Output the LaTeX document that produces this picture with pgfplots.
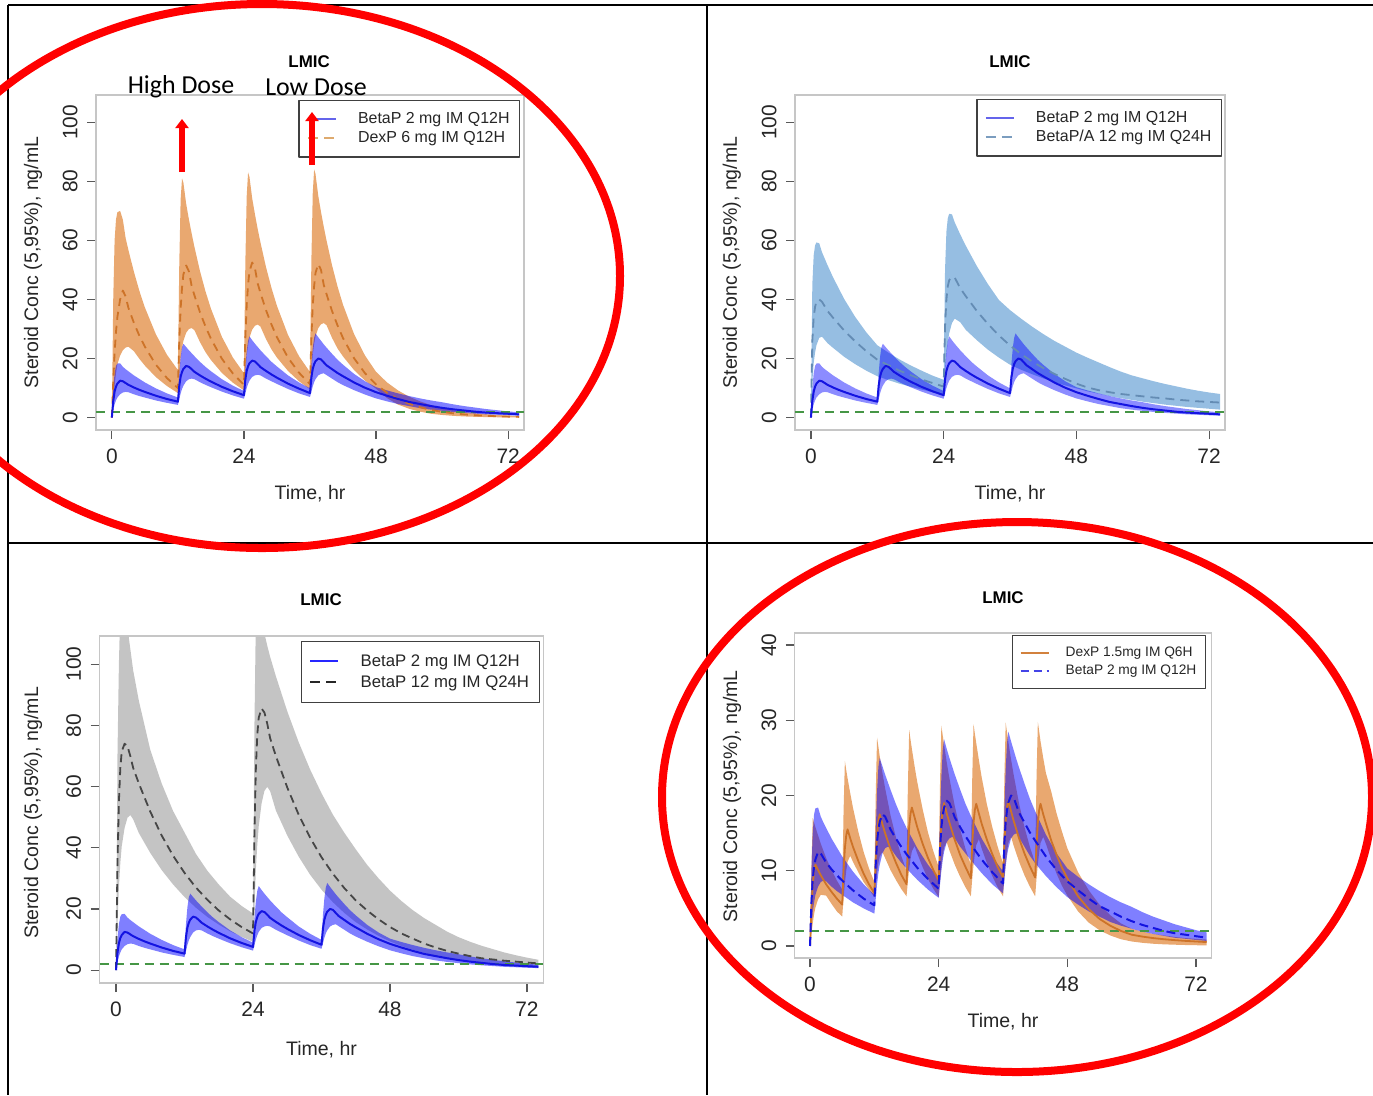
\documentclass[border=0pt]{standalone}
\usepackage{fontspec}
\setmainfont{Liberation Sans}
\newfontfamily\calibri{Carlito}
\usepackage{pgfplots}
\pgfplotsset{compat=1.18}
\usepackage{pgfplotstable}
\usepgfplotslibrary{fillbetween}
\usetikzlibrary{arrows.meta}

\definecolor{bline}{RGB}{20,20,225}
\definecolor{oband}{RGB}{233,168,112}
\definecolor{oline}{RGB}{205,115,40}
\definecolor{saband}{RGB}{150,190,226}
\definecolor{saline}{RGB}{100,140,180}
\definecolor{gband}{RGB}{196,196,196}
\definecolor{gline}{RGB}{70,70,70}
\definecolor{mecgreen}{RGB}{70,150,70}
\definecolor{legblue}{RGB}{100,100,235}
\definecolor{legorange}{RGB}{222,170,110}

% BetaP 2 mg IM Q12H
\pgfplotstableread{
t med lo hi
0 0 0 0
0.25 5.6 2.5 10.0
0.5 8.8 4.5 15.0
0.75 10.5 5.8 17.5
1 11.5 6.8 18.3
1.5 12.5 7.9 18.4
2 12.3 8.5 17.2
2.5 11.7 8.7 16.4
3 11.1 8.6 15.7
4 10.2 7.9 14.3
5 9.4 7.3 13.1
6 8.7 6.8 11.9
8 7.4 5.8 9.9
10 6.3 5.0 8.2
12 5.4 4.3 6.8
12.25 10.8 6.2 15.0
12.5 13.9 8.2 20.5
12.75 15.5 9.7 23.8
13 16.5 10.8 25.0
13.5 17.5 12.3 23.9
14 17.2 13.0 22.8
14.5 16.4 13.2 21.8
15 15.5 13.0 20.8
16 14.3 12.0 18.9
17 13.2 11.1 17.2
18 12.2 10.3 15.7
20 10.4 8.8 13.0
22 8.9 7.5 10.8
24 7.6 6.4 9.0
24.25 12.9 8.2 17.0
24.5 15.8 10.0 22.5
24.75 17.4 11.4 26.0
25 18.4 12.5 27.5
25.5 19.3 13.8 26.2
26 19.0 14.3 25.0
26.5 18.1 14.5 23.9
27 17.1 14.3 22.8
28 15.8 13.2 20.8
29 14.6 12.3 18.9
30 13.5 11.4 17.3
32 11.5 9.7 14.3
34 9.8 8.2 11.9
36 8.3 7.0 9.9
36.25 13.6 8.8 18.0
36.5 16.5 10.6 23.5
36.75 18.1 12.0 27.0
37 19.1 13.0 28.5
37.5 20.0 14.3 27.2
38 19.7 14.8 26.0
38.5 18.7 15.0 24.8
39 17.7 14.4 23.7
40 16.4 13.2 21.6
41 15.1 12.0 19.6
42 14.0 11.0 17.9
44 11.9 9.3 14.8
46 10.1 7.8 12.3
48 8.6 6.5 10.3
50 7.4 5.5 9.2
52 6.3 4.6 8.2
54 5.3 3.9 7.3
56 4.6 3.2 6.5
58 3.9 2.7 5.8
60 3.3 2.3 5.2
62 2.8 1.9 4.5
64 2.4 1.6 3.9
66 2.0 1.35 3.4
68 1.7 1.1 2.9
70 1.5 0.96 2.5
72 1.3 0.8 2.1
74 1.1 0.67 1.8
}\betap

% DexP 6 mg IM Q12H
\pgfplotstableread{
t med lo hi
0 0 0 0
0.25 12 6 40
0.5 22 11 60
0.75 29 15 67
1 34 18 69.5
1.5 40 21 70
2 43 22.8 67
2.5 41 23.7 60.8
3 37.2 24.0 56.8
4 32.1 22.5 49.4
5 27.7 19.9 42.9
6 24.0 17.6 37.3
8 17.9 13.7 28.2
10 13.4 10.7 21.3
12 10.0 8.3 16.1
12.25 26 14 52
12.5 37 20 74
12.75 44 23.5 81
13 48.5 26 79.5
13.5 51.5 28.7 72.4
14 49.5 30.0 67.1
14.5 44.5 30.3 62.3
15 41.4 29.6 57.8
16 35.7 25.6 49.7
17 30.9 22.2 42.8
18 26.7 19.5 36.9
20 19.9 15.1 27.3
22 14.9 11.8 20.3
24 11.1 9.2 15.0
24.25 27 15 52
24.5 38 21 75
24.75 45 24.5 83
25 49.5 27 81.5
25.5 52.5 29.8 74.2
26 50.5 31.1 68.8
26.5 45.4 31.5 63.8
27 42.2 30.8 59.3
28 36.4 26.6 51.0
29 31.5 23.1 43.9
30 27.2 20.3 37.8
32 20.3 15.8 28.0
34 15.2 12.3 20.8
36 11.3 9.6 15.4
36.25 27 15.3 53
36.5 38 21.3 76
36.75 44.5 25 84
37 49 27.5 82.5
37.5 52 30.3 75.1
38 50 31.6 69.6
38.5 44.9 32.0 64.6
39 41.8 31.3 60.0
40 36.1 27.0 51.6
41 31.2 23.4 44.4
42 26.9 20.7 38.2
44 20.1 16.1 28.3
46 15.0 12.5 21.0
48 11.2 9.8 15.5
50 8.4 6.6 11.9
52 6.3 4.4 9.2
54 4.7 3.0 7.1
56 3.5 2.0 5.5
58 2.6 1.3 4.2
60 1.95 0.9 3.25
62 1.45 0.6 2.5
64 1.09 0.4 1.9
66 0.81 0.27 1.5
68 0.61 0.18 1.15
70 0.45 0.12 0.89
72 0.34 0.08 0.68
74 0.25 0.05 0.53
}\dexsix

% BetaP/A 12 mg IM Q24H
\pgfplotstableread{
t med lo hi
0 0 0 0
0.25 26 12 45
0.5 34 18.5 55
0.75 37.5 22 58.3
1 39.3 24.5 59.3
1.5 40.0 27.0 59.0
2 39.2 27.4 56.0
3 36.1 25.2 51.6
4 33.8 23.6 47.5
6 29.5 20.6 40.2
8 25.8 18.1 34.1
10 22.5 15.9 28.9
12 19.6 14.0 24.5
14 17.7 12.7 22.0
16 15.9 11.5 19.7
18 14.4 10.5 17.7
20 12.9 9.5 15.9
22 11.7 8.6 14.2
24 10.5 7.8 12.8
24.25 31 15 50
24.5 40 21.5 63
24.75 44.5 25.5 67.5
25 46.5 28.5 69.0
25.5 47.6 32.0 68.8
26 47.4 33.5 66.1
27 43.8 32.3 62.0
28 41.1 29.7 58.2
30 36.1 26.2 51.3
32 31.7 23.0 45.2
34 27.8 20.3 39.8
36 24.4 17.9 36.4
38 21.5 16.2 33.5
40 19.0 14.7 30.8
42 16.8 13.3 28.3
44 14.8 12.0 26.0
46 13.1 10.9 24.0
48 11.5 9.9 22.0
50 10.2 8.9 20.3
52 9.3 8.1 18.7
54 8.6 7.3 17.1
56 8.0 6.6 15.6
58 7.6 6.0 14.3
60 7.2 5.4 13.3
62 6.8 4.9 12.3
64 6.5 4.4 11.4
66 6.1 4.0 10.6
68 5.8 3.6 9.8
70 5.5 3.3 9.1
72 5.3 3.0 8.5
74 5.1 2.7 8.0
}\betapa

% BetaP 12 mg IM Q24H
\pgfplotstableread{
t med lo hi
0 0 0 0
0.25 35 15 70
0.5 55 27 100
0.75 66 35 118
1 71.5 40.5 125
1.5 74.0 46.5 120
2 73.2 49.8 112
2.5 70.0 50.7 105
3 66.1 49.3 98
4 61.0 44.8 88
6 51.8 38.3 72
8 44.0 32.7 61
10 37.4 28.0 52
12 31.8 23.9 45
14 27.0 20.4 38
16 23.0 17.4 32.5
18 19.5 14.9 28
20 16.6 12.7 24
22 14.1 10.9 21
24 12.0 9.3 18.5
24.25 45 20 80
24.5 66 33 115
24.75 77 41 130
25 82.5 47 135
25.5 85.5 54.5 122
26 84.2 58.6 110
26.5 80.5 59.9 106
27 75.8 58.5 102.4
28 70.0 52.2 96.1
30 59.7 44.0 84.6
32 50.8 37.1 74.5
34 43.3 31.2 65.6
36 36.9 26.3 57.8
38 31.5 22.2 50.8
40 26.8 18.7 44.9
42 22.8 15.7 39.5
44 19.5 13.3 34.4
46 16.6 11.2 30.0
48 14.1 9.4 26.0
50 12.0 7.9 22.6
52 10.3 6.7 19.6
54 8.7 5.6 17.0
56 7.4 4.7 14.8
58 6.3 4.0 12.6
60 5.4 3.4 10.8
62 4.6 2.8 9.3
64 3.9 2.4 8.0
66 3.5 2.0 6.9
68 3.1 1.7 5.8
70 2.8 1.4 4.9
72 2.5 1.2 4.1
74 2.2 1.0 3.4
}\betatwelve

% DexP 1.5 mg IM Q6H
\pgfplotstableread{
t med lo hi
0 0 0 0
0.25 4.9 1.5 10.2
0.5 8.1 3.0 17.0
0.75 9.9 4.2 16.4
1 10.8 5.1 15.8
1.5 10.1 6.2 14.7
2 9.4 6.8 13.6
3 8.2 6.7 11.7
4 7.2 5.6 10.1
5 6.3 4.6 8.7
6 5.5 3.9 7.5
6.25 10.0 6.3 17.8
6.5 13.0 8.4 24.6
6.75 14.7 10.0 23.4
7 15.5 11.2 22.3
7.5 14.3 12.0 20.3
8 13.2 11.2 18.4
9 11.3 9.8 15.2
10 9.6 8.5 12.5
11 8.2 7.5 10.3
12 7.0 6.5 8.5
12.25 11.7 8.3 20.0
12.5 14.9 9.8 27.7
12.75 16.7 11.0 26.5
13 17.5 11.9 25.2
13.5 16.2 12.5 23.0
14 15.0 11.7 21.0
15 12.9 10.1 17.4
16 11.1 8.8 14.5
17 9.5 7.6 12.0
18 8.2 6.6 10.0
18.25 12.8 8.6 21.2
18.5 15.9 10.3 28.7
18.75 17.6 11.6 27.4
19 18.4 12.6 26.2
19.5 17.1 13.3 23.9
20 15.8 12.3 21.8
21 13.6 10.5 18.2
22 11.7 8.9 15.1
23 10.1 7.6 12.6
24 8.7 6.5 10.5
24.25 13.3 8.7 21.8
24.5 16.4 10.5 29.3
24.75 18.2 12.0 28.0
25 19.0 13.1 26.8
25.5 17.6 13.8 24.4
26 16.4 12.7 22.3
27 14.1 10.8 18.6
28 12.1 9.2 15.5
29 10.5 7.8 12.9
30 9.0 6.6 10.8
30.25 13.5 8.9 22.0
30.5 16.4 10.8 29.5
30.75 18.1 12.3 28.2
31 18.9 13.4 27.0
31.5 17.6 14.2 24.7
32 16.3 13.0 22.5
33 14.1 11.0 18.8
34 12.2 9.3 15.8
35 10.5 7.8 13.2
36 9.1 6.6 11.0
36.25 13.7 9.0 22.2
36.5 16.8 10.9 29.7
36.75 18.5 12.5 28.4
37 19.3 13.7 27.1
37.5 17.9 14.5 24.8
38 16.6 13.3 22.7
39 14.3 11.2 18.9
40 12.3 9.4 15.8
41 10.6 7.9 13.2
42 9.1 6.6 11.0
42.25 13.5 9.0 22.3
42.5 16.4 10.9 29.8
42.75 18.1 12.5 28.5
43 18.9 13.7 27.2
43.5 17.5 14.5 25.0
44 16.3 13.6 23.0
45 14.0 11.5 20.5
46 12.1 9.6 17.6
47 10.4 8.0 15.2
48 9.0 6.7 13.0
50 6.6 4.6 9.8
52 4.9 3.1 7.4
54 3.6 2.1 5.5
56 2.7 1.4 4.1
58 2.0 0.9 3.0
60 1.5 0.6 2.3
62 1.25 0.42 1.9
64 1.05 0.3 1.6
66 0.9 0.22 1.4
68 0.78 0.17 1.2
70 0.68 0.13 1.05
72 0.6 0.1 0.95
74 0.52 0.08 0.85
}\dexfifteen

\pgfplotsset{
  rplot/.style={
    scale only axis, enlargelimits=false, clip=true,
    xmin=-2.88, xmax=74.88, xtick={0,24,48,72},
    tick align=outside, tick pos=left, major tick length=4.5bp,
    axis line style={draw=gray!45, line width=0.6bp},
    every tick/.style={draw=black!65, line width=0.6bp},
    /pgf/number format/assume math mode=true,
    ticklabel style={font=\fontsize{10.5}{12}\selectfont, text=black!85},
    yticklabel style={rotate=90, anchor=south, inner sep=4.5bp},
    xticklabel style={anchor=north, inner sep=4.5bp},
    label style={font=\fontsize{9.8}{11}\selectfont, text=black!85},
    title style={font=\fontsize{8.5}{10}\selectfont\bfseries},
    legend cell align=left,
    legend image code/.code={\draw[##1] (0bp,0bp) -- (14bp,0bp);},
    legend style={draw=black!75, line width=0.6bp, fill=white, text=black!85,
      inner xsep=4bp, inner ysep=4.5bp, row sep=0pt,
      font=\fontsize{8}{9.5}\selectfont,
      nodes={inner sep=1bp, text height=6bp, text depth=1.6bp},
      /tikz/every odd column/.append style={column sep=9.5bp}},
    line join=round,
  },
  greenline/.style={mecgreen, dash pattern=on 4.5bp off 3bp, line width=0.8bp, forget plot},
}

\begin{document}
\begin{tikzpicture}[x=0.5bp, y=-0.5bp]
\coordinate (A1) at (96,430);
\coordinate (A2) at (795,430);
\coordinate (A3) at (99.6,983);
\coordinate (A4) at (794.6,958);

% ---------- Panel 1 ----------
\begin{axis}[rplot, at={(A1)}, anchor=south west, width=214bp, height=167.5bp,
  ymin=-4.2, ymax=109.2, ytick={0,20,40,60,80,100},
  title={LMIC}, title style={at={(axis description cs:0.498,1.065)}, anchor=center},
  xlabel={Time, hr}, xlabel style={at={(axis description cs:0.5,-0.19)}, anchor=center},
  ylabel={Steroid Conc (5,95\%), ng/mL}, ylabel style={at={(axis description cs:-0.147,0.5)}, anchor=center},
  legend style={at={(axis description cs:0.991,0.985)}, anchor=north east}]
\addplot[greenline] coordinates {(-2.88,2) (74.88,2)};
\addplot[draw=none, name path=pAhi, forget plot] table[x=t,y=hi]{\dexsix};
\addplot[draw=none, name path=pAlo, forget plot] table[x=t,y=lo]{\dexsix};
\addplot[fill=oband, draw=none, forget plot] fill between[of=pAhi and pAlo];
\addplot[draw=none, name path=pBhi, forget plot] table[x=t,y=hi]{\betap};
\addplot[draw=none, name path=pBlo, forget plot] table[x=t,y=lo]{\betap};
\addplot[fill=blue, fill opacity=0.5, draw=none, forget plot] fill between[of=pBhi and pBlo];
\addplot[oline, dash pattern=on 4bp off 3bp, line width=0.9bp, forget plot] table[x=t,y=med]{\dexsix};
\addplot[bline, line width=1bp, forget plot] table[x=t,y=med]{\betap};
\addlegendimage{legblue, line width=1bp}
\addlegendentry{BetaP 2 mg IM Q12H}
\addlegendimage{legorange, line width=1bp, dash pattern=on 5bp off 3bp}
\addlegendentry{DexP 6 mg IM Q12H}
\end{axis}

% ---------- Panel 2 ----------
\begin{axis}[rplot, at={(A2)}, anchor=south west, width=215bp, height=167.5bp,
  ymin=-4.2, ymax=109.2, ytick={0,20,40,60,80,100},
  title={LMIC}, title style={at={(axis description cs:0.5,1.065)}, anchor=center},
  xlabel={Time, hr}, xlabel style={at={(axis description cs:0.5,-0.19)}, anchor=center},
  ylabel={Steroid Conc (5,95\%), ng/mL}, ylabel style={at={(axis description cs:-0.147,0.5)}, anchor=center},
  legend style={at={(axis description cs:0.993,0.988)}, anchor=north east}]
\addplot[greenline] coordinates {(-2.88,2) (74.88,2)};
\addplot[draw=none, name path=qAhi, forget plot] table[x=t,y=hi]{\betapa};
\addplot[draw=none, name path=qAlo, forget plot] table[x=t,y=lo]{\betapa};
\addplot[fill=saband, draw=none, forget plot] fill between[of=qAhi and qAlo];
\addplot[draw=none, name path=qBhi, forget plot] table[x=t,y=hi]{\betap};
\addplot[draw=none, name path=qBlo, forget plot] table[x=t,y=lo]{\betap};
\addplot[fill=blue, fill opacity=0.45, draw=none, forget plot] fill between[of=qBhi and qBlo];
\addplot[saline, dash pattern=on 4.5bp off 3bp, line width=0.9bp, forget plot] table[x=t,y=med]{\betapa};
\addplot[bline, line width=1bp, forget plot] table[x=t,y=med]{\betap};
\addlegendimage{legblue, line width=1bp}
\addlegendentry{BetaP 2 mg IM Q12H}
\addlegendimage{saline!85, line width=1bp, dash pattern=on 5bp off 3bp}
\addlegendentry{BetaP/A 12 mg IM Q24H}
\end{axis}

% ---------- Panel 3 ----------
\begin{axis}[rplot, at={(A3)}, anchor=south west, width=221.9bp, height=173.5bp,
  ymin=-4.2, ymax=109.2, ytick={0,20,40,60,80,100},
  title={LMIC}, title style={at={(axis description cs:0.499,1.07)}, anchor=center},
  xlabel={Time, hr}, xlabel style={at={(axis description cs:0.5,-0.192)}, anchor=center},
  ylabel={Steroid Conc (5,95\%), ng/mL}, ylabel style={at={(axis description cs:-0.150,0.49)}, anchor=center},
  legend style={at={(axis description cs:0.992,0.986)}, anchor=north east,
    font=\fontsize{8.4}{10}\selectfont, inner ysep=4.7bp,
    nodes={inner sep=1.1bp, text height=6.5bp, text depth=1.8bp}}]
\addplot[greenline] coordinates {(-2.88,2) (74.88,2)};
\addplot[draw=none, name path=rAhi, forget plot] table[x=t,y=hi]{\betatwelve};
\addplot[draw=none, name path=rAlo, forget plot] table[x=t,y=lo]{\betatwelve};
\addplot[fill=gband, draw=none, forget plot] fill between[of=rAhi and rAlo];
\addplot[draw=none, name path=rBhi, forget plot] table[x=t,y=hi]{\betap};
\addplot[draw=none, name path=rBlo, forget plot] table[x=t,y=lo]{\betap};
\addplot[fill=blue, fill opacity=0.5, draw=none, forget plot] fill between[of=rBhi and rBlo];
\addplot[gline, dash pattern=on 4bp off 2.5bp, line width=0.9bp, forget plot] table[x=t,y=med]{\betatwelve};
\addplot[bline, line width=1bp, forget plot] table[x=t,y=med]{\betap};
\addlegendimage{blue!85, line width=1bp}
\addlegendentry{BetaP 2 mg IM Q12H}
\addlegendimage{black!85, line width=1bp, dash pattern=on 5bp off 3bp}
\addlegendentry{BetaP 12 mg IM Q24H}
\end{axis}

% ---------- Panel 4 ----------
\begin{axis}[rplot, at={(A4)}, anchor=south west, width=208.4bp, height=162.5bp,
  ymin=-1.6, ymax=41.6, ytick={0,10,20,30,40},
  title={LMIC}, title style={at={(axis description cs:0.5,1.071)}, anchor=center},
  xlabel={Time, hr}, xlabel style={at={(axis description cs:0.5,-0.197)}, anchor=center},
  ylabel={Steroid Conc (5,95\%), ng/mL}, ylabel style={at={(axis description cs:-0.150,0.498)}, anchor=center},
  legend style={at={(axis description cs:0.987,0.994)}, anchor=north east,
    font=\fontsize{6.9}{8.4}\selectfont, inner ysep=4.2bp, inner xsep=3.5bp,
    nodes={inner sep=1bp, text height=5.5bp, text depth=1.5bp},
    /tikz/every odd column/.append style={column sep=7bp}}]
\addplot[greenline] coordinates {(-2.88,2) (74.88,2)};
\addplot[draw=none, name path=sAhi, forget plot] table[x=t,y=hi]{\dexfifteen};
\addplot[draw=none, name path=sAlo, forget plot] table[x=t,y=lo]{\dexfifteen};
\addplot[fill=oband, draw=none, forget plot] fill between[of=sAhi and sAlo];
\addplot[draw=none, name path=sBhi, forget plot] table[x=t,y=hi]{\betap};
\addplot[draw=none, name path=sBlo, forget plot] table[x=t,y=lo]{\betap};
\addplot[fill=blue, fill opacity=0.5, draw=none, forget plot] fill between[of=sBhi and sBlo];
\addplot[oline, line width=0.9bp, forget plot] table[x=t,y=med]{\dexfifteen};
\addplot[bline, dash pattern=on 4.5bp off 2.5bp, line width=1bp, forget plot] table[x=t,y=med]{\betap};
\addlegendimage{oline!90, line width=1bp}
\addlegendentry{DexP 1.5mg IM Q6H}
\addlegendimage{bline!80, line width=1bp, dash pattern=on 4bp off 2.5bp}
\addlegendentry{BetaP 2 mg IM Q12H}
\end{axis}

% ---------- annotations ----------
\node[font=\calibri\fontsize{13}{15}\selectfont] at (181,87) {High Dose};
\node[font=\calibri\fontsize{13}{15}\selectfont] at (316,87) {Low Dose};
\draw[red, line width=3bp, -{Triangle[width=6.5bp,length=4.5bp]}] (182,172) -- (182,119);
\draw[red, line width=3bp, -{Triangle[width=6.5bp,length=4.5bp]}] (312,165) -- (312,112);

% table grid
\draw[black, line width=0.8bp] (8,5) -- (1373,5);
\draw[black, line width=0.8bp] (8,5) -- (8,1095);
\draw[black, line width=0.8bp] (707,5) -- (707,1095);
\draw[black, line width=0.8bp] (8,543) -- (1373,543);

% red ellipses
\begin{scope}
\clip (0,0) rectangle (1373,1095);
\draw[red, line width=4bp] (262,276) ellipse [x radius=358, y radius=272];
\draw[red, line width=4bp] (1017,797) ellipse [x radius=355, y radius=275];
\end{scope}
\pgfresetboundingbox
\useasboundingbox (0,0) rectangle (1373,1095);
\end{tikzpicture}
\end{document}
